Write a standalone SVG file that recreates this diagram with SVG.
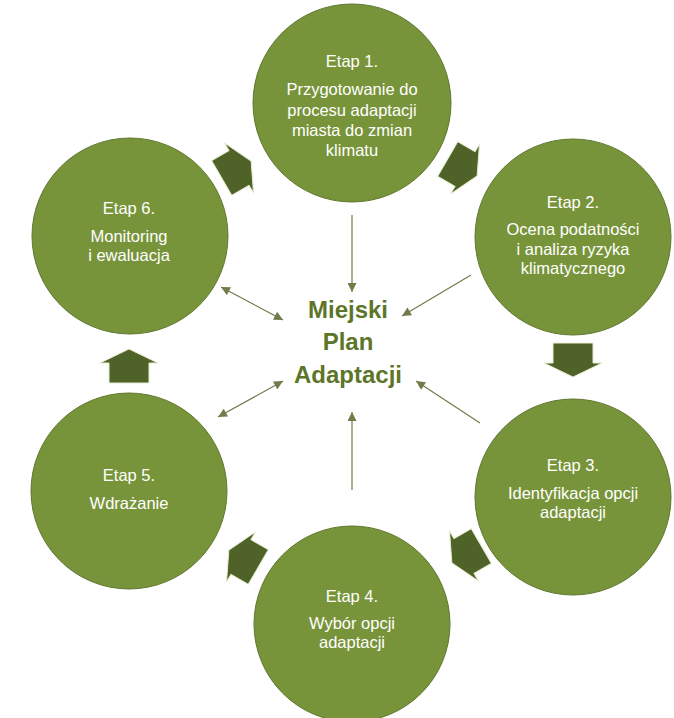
<svg xmlns="http://www.w3.org/2000/svg" width="674" height="718" viewBox="0 0 674 718">
<defs>
<style>
.c{fill:#78943A;stroke:#5f7730;stroke-width:1}
.t{font-family:"Liberation Sans",Arial,sans-serif;font-size:16.5px;fill:#ffffff;text-anchor:middle}
.ctr{font-family:"Liberation Sans",Arial,sans-serif;font-size:24px;font-weight:bold;fill:#5d7529;text-anchor:middle}
.ln{stroke:#6f7b4a;stroke-width:1.2;fill:none}
.blk{fill:#4F6228;stroke:#e6edd2;stroke-width:1}
</style>
<marker id="ah" viewBox="0 0 10 10" refX="10" refY="5" markerUnits="userSpaceOnUse" markerWidth="10" markerHeight="9" orient="auto-start-reverse">
<path d="M0,0 L10,5 L0,10 z" fill="#6f7b4a"/>
</marker>
<path id="ba" d="M-20,-20 L0,-20 L0,-29 L14,0 L0,29 L0,20 L-20,20 Z"/>
</defs>
<rect width="674" height="718" fill="#ffffff"/>

<g id="connectors">
<line class="ln" x1="352" y1="215" x2="352" y2="292" marker-end="url(#ah)"/>
<line class="ln" x1="471" y1="275" x2="402" y2="316" marker-end="url(#ah)"/>
<line class="ln" x1="221" y1="287" x2="283" y2="320" marker-start="url(#ah)" marker-end="url(#ah)"/>
<line class="ln" x1="283" y1="381" x2="218" y2="417" marker-start="url(#ah)" marker-end="url(#ah)"/>
<line class="ln" x1="480" y1="423" x2="416" y2="381" marker-end="url(#ah)"/>
<line class="ln" x1="352" y1="490" x2="352" y2="412" marker-end="url(#ah)"/>
</g>

<g id="flow-arrows">
<use href="#ba" class="blk" transform="translate(239,168) rotate(-30)"/>
<use href="#ba" class="blk" transform="translate(465,169) rotate(30)"/>
<use href="#ba" class="blk" transform="translate(573,363) rotate(90)"/>
<use href="#ba" class="blk" transform="translate(464,556) rotate(150)"/>
<use href="#ba" class="blk" transform="translate(241,557) rotate(-150)"/>
<use href="#ba" class="blk" transform="translate(129,363) rotate(-90)"/>
</g>

<g id="etap1">
<circle class="c" cx="352" cy="103" r="99"/>
<text class="t" x="352" y="67">Etap 1.</text>
<text class="t" x="352" y="95">Przygotowanie do</text>
<text class="t" x="352" y="116">procesu adaptacji</text>
<text class="t" x="352" y="136">miasta do zmian</text>
<text class="t" x="352" y="156">klimatu</text>
</g>

<g id="etap2">
<circle class="c" cx="573" cy="237" r="98"/>
<text class="t" x="573" y="208">Etap 2.</text>
<text class="t" x="573" y="235">Ocena podatności</text>
<text class="t" x="573" y="255">i analiza ryzyka</text>
<text class="t" x="573" y="274">klimatycznego</text>
</g>

<g id="etap3">
<circle class="c" cx="573" cy="497" r="98"/>
<text class="t" x="573" y="471">Etap 3.</text>
<text class="t" x="573" y="499">Identyfikacja opcji</text>
<text class="t" x="573" y="518">adaptacji</text>
</g>

<g id="etap4">
<circle class="c" cx="352" cy="624" r="98"/>
<text class="t" x="352" y="602">Etap 4.</text>
<text class="t" x="352" y="629">Wybór opcji</text>
<text class="t" x="352" y="648">adaptacji</text>
</g>

<g id="etap5">
<circle class="c" cx="129" cy="491" r="98"/>
<text class="t" x="129" y="481">Etap 5.</text>
<text class="t" x="129" y="509">Wdrażanie</text>
</g>

<g id="etap6">
<circle class="c" cx="130" cy="236" r="98"/>
<text class="t" x="129" y="214">Etap 6.</text>
<text class="t" x="129" y="242">Monitoring</text>
<text class="t" x="129" y="261">i ewaluacja</text>
</g>

<g id="center">
<text class="ctr" x="348" y="318">Miejski</text>
<text class="ctr" x="348" y="350">Plan</text>
<text class="ctr" x="348" y="383">Adaptacji</text>
</g>
</svg>
